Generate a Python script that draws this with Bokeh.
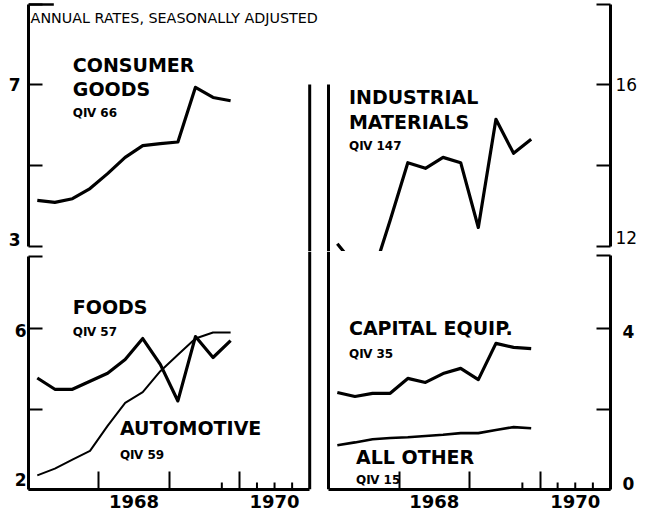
from bokeh.plotting import figure
from bokeh.models import Range1d, LinearAxis, FixedTicker, Label
from bokeh.layouts import column, row
from bokeh.embed import file_html
from bokeh.resources import INLINE
from bokeh.core.properties import value

# ---- data (quarterly, 1967 Q1 .. 1969 Q4, plotted at mid-quarter) ----
quarters = [1967.125, 1967.375, 1967.625, 1967.875,
            1968.125, 1968.375, 1968.625, 1968.875,
            1969.125, 1969.375, 1969.625, 1969.875]
consumer_goods = [4.14, 4.09, 4.18, 4.43, 4.80, 5.20, 5.49, 5.54, 5.58, 6.93, 6.68, 6.60]
industrial_materials = [12.07, 11.53, 11.28, 12.65, 14.07, 13.93, 14.20, 14.07, 12.47, 15.14, 14.30, 14.65]
foods = [4.77, 4.49, 4.49, 4.69, 4.89, 5.23, 5.75, 5.11, 4.20, 5.80, 5.28, 5.70]
automotive = [2.35, 2.52, 2.74, 2.96, 3.58, 4.15, 4.42, 4.94, 5.35, 5.75, 5.90, 5.90]
capital_equip = [2.41, 2.31, 2.39, 2.39, 2.76, 2.66, 2.88, 3.01, 2.73, 3.63, 3.53, 3.50]
all_other = [1.10, 1.17, 1.25, 1.28, 1.30, 1.33, 1.36, 1.40, 1.40, 1.48, 1.55, 1.52]

# x axis: year boundary ticks, quarterly ticks, year labels (centred on the year)
year_ticks = [1968, 1969, 1970]
quarter_ticks = [1969.75, 1970.25, 1970.5, 1970.75]
year_label_pos = [1968.5, 1970.5]
year_labels = ["1968", "1970"]

# value axes: tick marks, and where the printed labels sit
tl_marks, tl_label_pos, tl_labels = [3, 5, 7], [3.185, 7.0], ["3", "7"]
bl_marks, bl_label_pos, bl_labels = [2, 4, 6], [2.26, 5.94], ["2", "6"]
tr_marks, tr_label_pos, tr_labels = [12, 14, 16], [12.21, 16.01], ["12", "16"]
br_marks, br_label_pos, br_labels = [0, 2, 4], [0.14, 3.925], ["0", "4"]

FONT = "DejaVu Sans"
PX_TOP = 40.5
PX_BOT = 40.25


def make_fig(width, height, xr, yr, mbl, mbr, mbt, mbb):
    p = figure(width=width, height=height, x_range=xr, y_range=yr,
               output_backend="svg", toolbar_location=None,
               x_axis_location=None, y_axis_location=None,
               min_border_left=mbl, min_border_right=mbr,
               min_border_top=mbt, min_border_bottom=mbb)
    p.outline_line_color = None
    p.background_fill_color = "white"
    p.border_fill_color = "white"
    for g in p.grid:
        g.visible = False
    return p


def y_axis(marks, label_pos, labels, top, bottom, standoff, bold=True):
    return LinearAxis(
        ticker=FixedTicker(ticks=label_pos, minor_ticks=marks + [top]),
        bounds=(bottom, top),
        major_tick_in=0, major_tick_out=0, major_tick_line_color=None,
        minor_tick_in=14, minor_tick_out=0, minor_tick_line_width=2,
        axis_line_width=3, axis_line_color="black",
        major_label_overrides=dict(zip(label_pos, labels)),
        major_label_standoff=standoff,
        major_label_text_font=FONT,
        major_label_text_font_size="17px",
        major_label_text_font_style="bold" if bold else "normal",
        major_label_text_color="black")


def x_axis(p, y0, px_unit):
    ax = LinearAxis(ticker=FixedTicker(ticks=year_label_pos, minor_ticks=year_ticks),
                    bounds=(1967, 1971),
                    major_tick_in=0, major_tick_out=0, major_tick_line_color=None,
                    minor_tick_in=18, minor_tick_out=0, minor_tick_line_width=2,
                    axis_line_width=3, axis_line_color="black",
                    major_label_overrides=dict(zip(year_label_pos, year_labels)),
                    major_label_standoff=5,
                    major_label_text_font=FONT, major_label_text_font_size="18px",
                    major_label_text_font_style="bold", major_label_text_color="black")
    p.add_layout(ax, "below")
    # short quarterly ticks
    p.segment(x0=quarter_ticks, y0=[y0] * len(quarter_ticks),
              x1=quarter_ticks, y1=[y0 + 7 / px_unit] * len(quarter_ticks),
              line_width=2, line_color="black")


def series_text(p, x, y, txt, size):
    p.text(x=[x], y=[y], text=[txt], text_font=value(FONT), text_font_style="bold",
           text_font_size=size, text_baseline="top", text_align="left", text_color="black")


TOP_H, BOT_H = 251, 265
BOT_FRAME = 238
LW, RW = 326, 324
L_MB_L, L_FRAME = 28, 297
R_MB_L, R_FRAME = 0, 284

xr_left = (1967, 1967 + L_FRAME / 70.3)
xr_right = (1971 - R_FRAME / 70.5, 1971)

# ---------- top-left: consumer goods ----------
tl_start = 3 - 5 / PX_TOP
tl_top = 8.975
p1 = make_fig(LW, TOP_H, Range1d(*xr_left), Range1d(tl_start, tl_start + TOP_H / PX_TOP),
              L_MB_L, LW - L_MB_L - L_FRAME, 0, 0)
p1.add_layout(y_axis(tl_marks, tl_label_pos, tl_labels, tl_top, 3, 8), "left")
p1.segment(x0=[1967], y0=[tl_top], x1=[1967.36], y1=[tl_top], line_width=2.5, line_color="black")
p1.segment(x0=[1971], y0=[7], x1=[1971], y1=[tl_start], line_width=3, line_color="black")
p1.line(quarters, consumer_goods, line_width=3.2, line_color="black", line_join="round")
series_text(p1, 1967.63, 7.75, "CONSUMER", "19px")
series_text(p1, 1967.63, 7.16, "GOODS", "19px")
series_text(p1, 1967.63, 6.47, "QⅣ 66", "12px")
p1.add_layout(Label(x=1967.03, y=8.83, text="ANNUAL RATES, SEASONALLY ADJUSTED",
                    text_font=FONT, text_font_size="14.3px", text_baseline="top",
                    text_color="black"))

# ---------- top-right: industrial materials ----------
tr_start = 12 - 5 / PX_TOP
tr_top = 17.98
p2 = make_fig(RW, TOP_H, Range1d(*xr_right), Range1d(tr_start, tr_start + TOP_H / PX_TOP),
              R_MB_L, RW - R_MB_L - R_FRAME, 0, 0)
p2.add_layout(y_axis(tr_marks, tr_label_pos, tr_labels, tr_top, 12, 5, bold=False), "right")
p2.segment(x0=[1967], y0=[16], x1=[1967], y1=[tr_start], line_width=3, line_color="black")
p2.line(quarters, industrial_materials, line_width=3.2, line_color="black", line_join="round")
series_text(p2, 1967.29, 15.96, "INDUSTRIAL", "19px")
series_text(p2, 1967.29, 15.35, "MATERIALS", "19px")
series_text(p2, 1967.29, 14.66, "QⅣ 147", "12px")

# ---------- bottom-left: foods, automotive ----------
bl_end = 2 + BOT_FRAME / PX_BOT
bl_top = 7.79
p3 = make_fig(LW, BOT_H, Range1d(*xr_left), Range1d(2, bl_end),
              L_MB_L, LW - L_MB_L - L_FRAME, 0, BOT_H - BOT_FRAME)
p3.add_layout(y_axis(bl_marks, bl_label_pos, bl_labels, bl_top, 2, 2), "left")
x_axis(p3, 2, PX_BOT)
p3.segment(x0=[1971], y0=[bl_end], x1=[1971], y1=[2], line_width=3, line_color="black")
p3.line(quarters, automotive, line_width=2, line_color="black", line_join="round")
p3.line(quarters, foods, line_width=3.2, line_color="black", line_join="round")
series_text(p3, 1967.63, 6.81, "FOODS", "19px")
series_text(p3, 1967.63, 6.08, "QⅣ 57", "12px")
series_text(p3, 1968.30, 3.80, "AUTOMOTIVE", "19px")
series_text(p3, 1968.30, 3.04, "QⅣ 59", "12px")

# ---------- bottom-right: capital equipment, all other ----------
br_end = BOT_FRAME / PX_BOT
br_top = 5.81
p4 = make_fig(RW, BOT_H, Range1d(*xr_right), Range1d(0, br_end),
              R_MB_L, RW - R_MB_L - R_FRAME, 0, BOT_H - BOT_FRAME)
p4.add_layout(y_axis(br_marks, br_label_pos, br_labels, br_top, 0, 12), "right")
x_axis(p4, 0, PX_BOT)
p4.segment(x0=[1967], y0=[br_end], x1=[1967], y1=[0], line_width=3, line_color="black")
p4.line(quarters, capital_equip, line_width=3.2, line_color="black", line_join="round")
p4.line(quarters, all_other, line_width=2.6, line_color="black", line_join="round")
series_text(p4, 1967.29, 4.29, "CAPITAL EQUIP.", "19px")
series_text(p4, 1967.29, 3.55, "QⅣ 35", "12px")
series_text(p4, 1967.39, 1.08, "ALL OTHER", "19px")
series_text(p4, 1967.39, 0.42, "QⅣ 15", "12px")

layout = column(row(p1, p2), row(p3, p4))
open("out.html", "w").write(file_html(layout, INLINE))
